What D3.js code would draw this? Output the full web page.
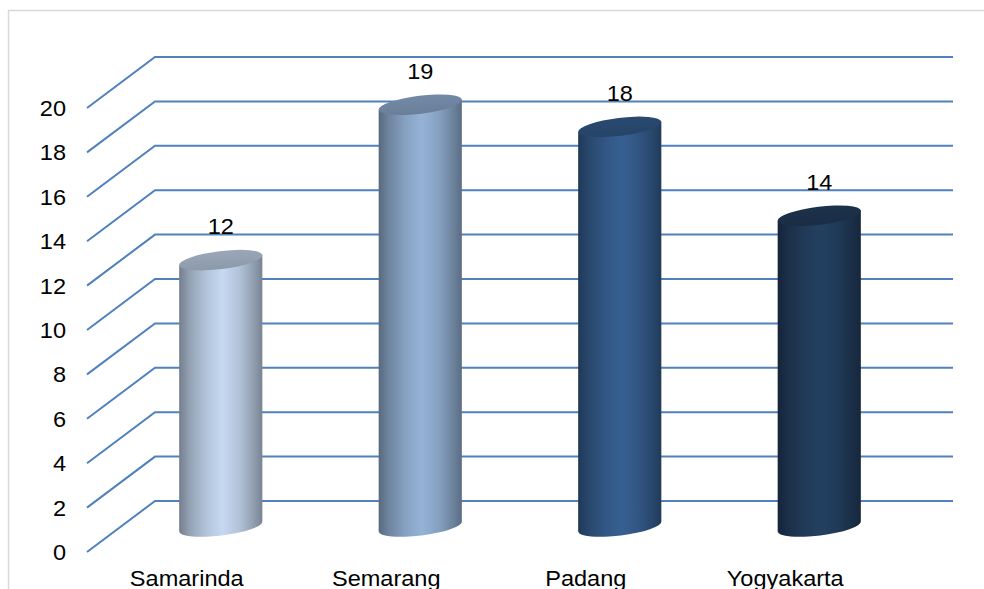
<!DOCTYPE html>
<html lang="en">
<head>
    <meta charset="UTF-8">
    <script type="text/javascript" src="https://cdn.jsdelivr.net/npm/d3@7/dist/d3.min.js"></script>
    <title>Cylinder chart</title>
    <style type="text/css">
        body {
            margin: 0;
            background-color: white;
        }
        text {
            font-family: Arial, "Liberation Sans", sans-serif;
            font-size: 22px;
            fill: #000;
        }
    </style>
</head>
<body>
<svg id="chart" width="984" height="589"></svg>

<script>
    // chart data
    var cities = ["Samarinda", "Semarang", "Padang", "Yogyakarta"];
    var counts = [12, 19, 18, 14];
    var yTicks = [0, 2, 4, 6, 8, 10, 12, 14, 16, 18, 20];

    // layout of the front plane and the depth of the 3d box
    var front = { left: 87, right: 885, top: 108, bottom: 552 };
    var depth = { dx: 68, dy: -51 };
    var textStretch = 1.07;

    var svg = d3.select("#chart");

    // scales
    var x = d3.scaleBand()
            .domain(cities)
            .range([front.left, front.right]);
    var y = d3.scaleLinear()
            .domain([0, 20])
            .range([front.bottom, front.top]);
    var color = d3.scaleOrdinal()
            .domain(cities)
            .range(["#c6d9f1", "#95b3d7", "#366092", "#244061"]);

    // chart area border
    svg.append("rect")
            .attr("x", 8.5)
            .attr("y", 10.5)
            .attr("width", 1000)
            .attr("height", 600)
            .attr("fill", "none")
            .attr("stroke", "#d9d9d9")
            .attr("stroke-width", 1.5);

    // gridlines: diagonal on the side wall, then flat along the back wall
    svg.append("g")
            .selectAll("path")
            .data(yTicks)
            .enter()
            .append("path")
            .attr("d", function(t) {
                var p = d3.path();
                p.moveTo(front.left, y(t));
                p.lineTo(front.left + depth.dx, y(t) + depth.dy);
                p.lineTo(front.right + depth.dx, y(t) + depth.dy);
                return p.toString();
            })
            .attr("fill", "none")
            .attr("stroke", "#4f81bd")
            .attr("stroke-width", 2);

    // y tick labels
    svg.append("g")
            .selectAll("text")
            .data(yTicks)
            .enter()
            .append("text")
            .attr("transform", function(t) {
                return "translate(66," + y(t) + ") scale(" + textStretch + ",1)";
            })
            .attr("dy", "0.36em")
            .attr("text-anchor", "end")
            .text(function(t) { return t; });

    // category labels
    svg.append("g")
            .selectAll("text")
            .data(cities)
            .enter()
            .append("text")
            .attr("transform", function(c) {
                return "translate(" + (x(c) + x.bandwidth() / 2) + ",586) scale(" + textStretch + ",1)";
            })
            .attr("text-anchor", "middle")
            .text(function(c) { return c; });

    // gradients for the cylinder bodies and tops
    var defs = svg.append("defs");
    cities.forEach(function(c, i) {
        var base = d3.color(color(c));
        var side = defs.append("linearGradient")
                .attr("id", "side" + i)
                .attr("x1", 0).attr("x2", 1).attr("y1", 0).attr("y2", 0);
        [[0, 1.5], [0.12, 0.85], [0.32, 0.3], [0.52, 0], [0.72, 0.3], [0.9, 0.9], [1, 1.4]]
                .forEach(function(s) {
                    side.append("stop")
                            .attr("offset", s[0])
                            .attr("stop-color", base.darker(s[1]).formatHex());
                });
        var top = defs.append("linearGradient")
                .attr("id", "top" + i)
                .attr("x1", 0).attr("x2", 0.3).attr("y1", 1).attr("y2", 0);
        top.append("stop").attr("offset", 0).attr("stop-color", base.darker(1.0).formatHex());
        top.append("stop").attr("offset", 1).attr("stop-color", base.darker(0.75).formatHex());
    });

    // cylinders stand half way into the box
    var tilt = -7;
    var rad = -tilt * Math.PI / 180;
    var ry = 9;
    var bars = svg.append("g")
            .selectAll("g")
            .data(cities)
            .enter()
            .append("g");

    function geom(c, i) {
        var rx = x.bandwidth() * 0.21;
        return {
            cx: x(c) + x.bandwidth() / 2 + depth.dx / 2,
            yt: y(counts[i]) + depth.dy / 2,
            yb: y(0) + depth.dy / 2,
            rx: rx,
            ex: rx * Math.cos(rad),
            ey: rx * Math.sin(rad)
        };
    }

    bars.append("path")
            .attr("d", function(c, i) {
                var g = geom(c, i);
                return "M" + (g.cx - g.ex) + "," + (g.yt + g.ey) +
                        "L" + (g.cx - g.ex) + "," + (g.yb + g.ey) +
                        "A" + g.rx + "," + ry + " " + tilt + " 0 0 " + (g.cx + g.ex) + "," + (g.yb - g.ey) +
                        "L" + (g.cx + g.ex) + "," + (g.yt - g.ey) + "Z";
            })
            .attr("fill", function(c, i) { return "url(#side" + i + ")"; });

    bars.append("ellipse")
            .attr("transform", function(c, i) {
                var g = geom(c, i);
                return "translate(" + g.cx + "," + g.yt + ") rotate(" + tilt + ")";
            })
            .attr("rx", function(c, i) { return geom(c, i).rx; })
            .attr("ry", ry)
            .attr("fill", function(c, i) { return "url(#top" + i + ")"; });

    // value labels above each cylinder
    svg.append("g")
            .selectAll("text")
            .data(cities)
            .enter()
            .append("text")
            .attr("transform", function(c, i) {
                var g = geom(c, i);
                return "translate(" + g.cx + "," + (g.yt - 26) + ") scale(" + textStretch + ",1)";
            })
            .attr("text-anchor", "middle")
            .text(function(c, i) { return counts[i]; });
</script>
</body>
</html>
